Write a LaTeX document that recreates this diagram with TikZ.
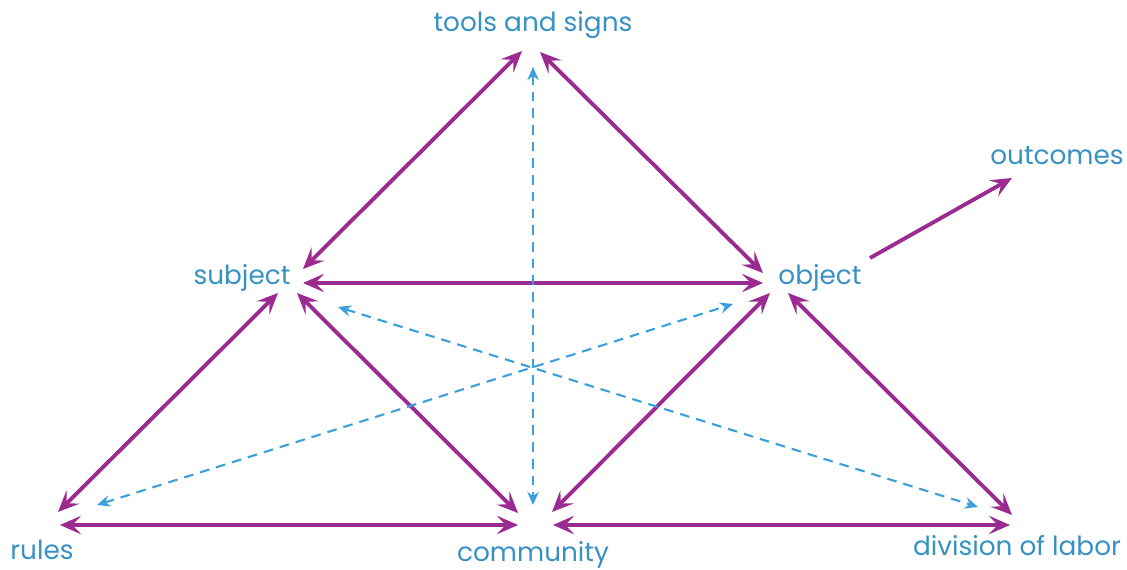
\documentclass[tikz,border=0pt]{standalone}
\usepackage{fontspec}
\setmainfont{Poppins}
\usetikzlibrary{arrows.meta,calc}
\definecolor{pur}{RGB}{155,42,145}
\definecolor{lbl}{RGB}{55,145,195}
\definecolor{dsh}{RGB}{60,160,220}
\tikzset{
  lab/.style={text=lbl, font=\fontsize{15}{17}\selectfont, anchor=base, inner sep=0pt},
  pa/.style={draw=pur, line width=2.2pt, {Stealth[length=12pt,width=10.5pt,inset=5pt]}-{Stealth[length=12pt,width=10.5pt,inset=5pt]}},
  pone/.style={draw=pur, line width=2.2pt, -{Stealth[length=12pt,width=10.5pt,inset=5pt]}},
  ba/.style={draw=dsh, line width=1.2pt, dash pattern=on 5.5pt off 4pt, {Stealth[length=7.5pt,width=6.5pt,inset=2.5pt]}-{Stealth[length=7.5pt,width=6.5pt,inset=2.5pt]}}
}
\begin{document}
\begin{tikzpicture}[x=0.02cm,y=-0.02cm]
\useasboundingbox (0,0) rectangle (1127,570);
% labels
\node[lab] (tools) at (533,32) {tools and signs};
\node[lab] (outcomes) at (1057,165) {outcomes};
\node[lab] (subject) at (242,285) {subject};
\node[lab] (object) at (820,285) {object};
\node[lab] (rules) at (42,560) {rules};
\node[lab] (community) at (533,562) {community};
\node[lab] (division) at (1017,556) {division of labor};
% hubs
\coordinate (S) at (290,283);
\coordinate (T) at (531,43);
\coordinate (O) at (777,283);
\coordinate (R) at (45,525);
\coordinate (C) at (535,525);
\coordinate (D) at (1022,525);
\coordinate (U) at (1057,157);
% purple arrows
\draw[pa] ($(S)+(13,-14)$) -- ($(T)+(-9,8)$);
\draw[pa] ($(T)+(9,9)$) -- ($(O)+(-14,-10)$);
\draw[pa] ($(S)+(13,0)$) -- ($(O)+(-14,0)$);
\draw[pa] ($(R)+(13,-13)$) -- ($(S)+(-12,10)$);
\draw[pa] ($(S)+(7,10)$) -- ($(C)+(-17,-12)$);
\draw[pa] ($(O)+(-7,10)$) -- ($(C)+(17,-13)$);
\draw[pa] ($(O)+(11,10)$) -- ($(D)+(-10,-10)$);
\draw[pa] ($(R)+(15,0)$) -- ($(C)+(-17,0)$);
\draw[pa] ($(C)+(18,0)$) -- ($(D)+(-12,0)$);
\draw[pone] ($(O)+(93,-25)$) -- ($(U)+(-45,21)$);
% blue dashed arrows
\draw[ba] ($(T)+(2,24)$) -- ($(C)+(-2,-20)$);
\draw[ba] ($(R)+(52,-20)$) -- ($(O)+(-44,21)$);
\draw[ba] ($(S)+(48,24)$) -- ($(D)+(-44,-18)$);
\end{tikzpicture}
\end{document}
